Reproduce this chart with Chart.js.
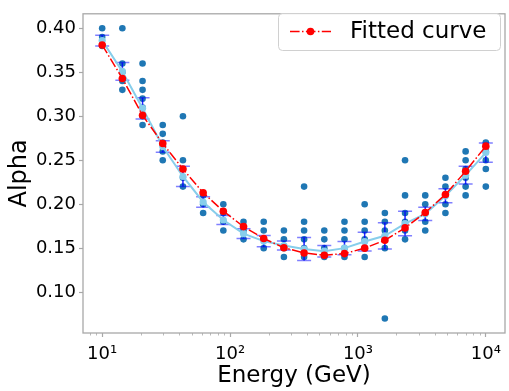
<!DOCTYPE html>
<html><head><meta charset="utf-8">
<script src="https://cdn.jsdelivr.net/npm/chart.js@4.4.0/dist/chart.umd.min.js"></script>
<style>html,body{margin:0;padding:0;background:#fff;}canvas{display:block;}</style>
</head><body>
<canvas id="c" width="509" height="391"></canvas>
<script>
// Energy bins (GeV)
const energies = [10, 14.38, 20.69, 29.76, 42.81, 61.58, 88.59, 127.4, 183.3, 263.7,
                  379.3, 545.6, 784.8, 1128.8, 1623.8, 2335.7, 3359.8, 4832.9, 6951.9, 10000];
// individual alpha values per energy bin
const alphaRuns = [
  [0.40, 0.39, 0.38],
  [0.40, 0.36, 0.35, 0.34, 0.33],
  [0.36, 0.34, 0.33, 0.32, 0.31, 0.30, 0.29],
  [0.29, 0.28, 0.27, 0.26, 0.25],
  [0.30, 0.25, 0.24, 0.23, 0.22],
  [0.21, 0.20, 0.19],
  [0.20, 0.19, 0.18, 0.17],
  [0.18, 0.17, 0.16],
  [0.18, 0.17, 0.16, 0.15],
  [0.17, 0.16, 0.15, 0.14],
  [0.22, 0.18, 0.17, 0.16, 0.15, 0.14],
  [0.17, 0.16, 0.15, 0.14],
  [0.18, 0.17, 0.16, 0.15, 0.14],
  [0.20, 0.18, 0.17, 0.16, 0.15, 0.14],
  [0.19, 0.18, 0.17, 0.16, 0.15, 0.07],
  [0.25, 0.21, 0.19, 0.18, 0.17, 0.16],
  [0.21, 0.20, 0.19, 0.18, 0.17],
  [0.23, 0.22, 0.21, 0.20, 0.19],
  [0.26, 0.25, 0.24, 0.23, 0.22, 0.21],
  [0.27, 0.26, 0.25, 0.24, 0.22]
];
// mean alpha per bin and its error
const meanAlpha = [0.386, 0.351, 0.309, 0.2655, 0.2315, 0.2025, 0.182, 0.1665, 0.158, 0.153,
                   0.149, 0.1465, 0.150, 0.1575, 0.164, 0.178, 0.189, 0.2095, 0.233, 0.2587];
const errAlpha  = [0.006, 0.010, 0.012, 0.0065, 0.0115, 0.006, 0.005, 0.0055, 0.0065, 0.005,
                   0.013, 0.0065, 0.0075, 0.0107, 0.015, 0.014, 0.0075, 0.008, 0.010, 0.011];
// fitted curve
const fitAlpha  = [0.381, 0.343, 0.301, 0.269, 0.240, 0.213, 0.192, 0.1745, 0.161, 0.1505,
                   0.1445, 0.142, 0.1438, 0.150, 0.159, 0.173, 0.1905, 0.211, 0.2375, 0.266];
const yTicks = [0.10, 0.15, 0.20, 0.25, 0.30, 0.35, 0.40];
const xTicks = [10, 100, 1000, 10000];
const xTickLabels = ['10\u00B9', '10\u00B2', '10\u00B3', '10\u2074'];
const minorTicks = [8, 9, 20, 30, 40, 50, 60, 70, 80, 90, 200, 300, 400, 500, 600, 700, 800, 900,
                    2000, 3000, 4000, 5000, 6000, 7000, 8000, 9000];

const FONT = "'DejaVu Sans', sans-serif";
const GRAY = '#a8a8a8';

const scatterData = [];
energies.forEach((e, i) => alphaRuns[i].forEach(v => scatterData.push({x: e, y: v})));

const errorBars = {
  id: 'errorBars',
  afterDatasetDraw(chart, args) {
    if (args.index !== 0) return;
    const {ctx, scales: {x, y}} = chart;
    ctx.save();
    energies.forEach((e, i) => {
      const px = x.getPixelForValue(e);
      const yt = y.getPixelForValue(meanAlpha[i] + errAlpha[i]);
      const yb = y.getPixelForValue(meanAlpha[i] - errAlpha[i]);
      ctx.strokeStyle = 'rgba(0,0,255,0.85)';
      ctx.lineWidth = 1.5;
      ctx.beginPath(); ctx.moveTo(px, yt); ctx.lineTo(px, yb); ctx.stroke();
      ctx.strokeStyle = 'rgba(0,0,255,0.5)';
      ctx.beginPath();
      ctx.moveTo(px - 7, yt); ctx.lineTo(px + 7, yt);
      ctx.moveTo(px - 7, yb); ctx.lineTo(px + 7, yb);
      ctx.stroke();
    });
    ctx.restore();
  }
};

const frame = {
  id: 'frame',
  afterDraw(chart) {
    const {ctx, chartArea: a, scales: {x}} = chart;
    ctx.save();
    ctx.strokeStyle = GRAY;
    ctx.lineWidth = 1.3;
    ctx.strokeRect(a.left, a.top, a.right - a.left, a.bottom - a.top);
    ctx.lineWidth = 0.8;
    ctx.beginPath();
    minorTicks.forEach(v => {
      const px = Math.round(x.getPixelForValue(v)) + 0.5;
      ctx.moveTo(px, a.bottom); ctx.lineTo(px, a.bottom + 2.5);
    });
    ctx.stroke();
    // legend
    const lx = 278, ly = 13, lw = 222, lh = 37;
    ctx.fillStyle = 'rgba(255,255,255,0.8)';
    ctx.strokeStyle = '#d0d0d0';
    ctx.lineWidth = 1;
    ctx.beginPath();
    ctx.roundRect(lx + 0.5, ly + 0.5, lw, lh, 4);
    ctx.fill(); ctx.stroke();
    const cy = ly + lh / 2;
    ctx.strokeStyle = 'red';
    ctx.lineWidth = 1.5;
    ctx.setLineDash([9.6, 2.4, 1.5, 2.4]);
    ctx.beginPath(); ctx.moveTo(290, cy); ctx.lineTo(331, cy); ctx.stroke();
    ctx.setLineDash([]);
    ctx.fillStyle = 'red';
    ctx.beginPath(); ctx.arc(310.5, cy, 3.8, 0, Math.PI * 2); ctx.fill();
    ctx.fillStyle = '#000';
    ctx.font = '23px ' + FONT;
    ctx.textBaseline = 'middle';
    ctx.textAlign = 'left';
    ctx.fillText('Fitted curve', 350, cy + 1);
    ctx.restore();
  }
};

new Chart(document.getElementById('c'), {
  data: {
    datasets: [
      {
        type: 'scatter', label: 'runs', data: scatterData, order: 3,
        pointRadius: 3.3, pointBackgroundColor: '#1f77b4', pointBorderWidth: 0, showLine: false
      },
      {
        type: 'line', label: 'mean', order: 2,
        data: energies.map((e, i) => ({x: e, y: meanAlpha[i]})),
        borderColor: '#87ceeb', borderWidth: 2, pointRadius: 3.6,
        pointBackgroundColor: '#87ceeb', pointBorderWidth: 0, tension: 0
      },
      {
        type: 'line', label: 'Fitted curve', order: 1,
        data: energies.map((e, i) => ({x: e, y: fitAlpha[i]})),
        borderColor: 'red', borderWidth: 1.5, borderDash: [9.6, 2.4, 1.5, 2.4],
        pointRadius: 3.8, pointBackgroundColor: 'red', pointBorderWidth: 0, tension: 0
      }
    ]
  },
  options: {
    responsive: false, animation: false, devicePixelRatio: 1,
    layout: {padding: {top: 3, right: 1, left: 0, bottom: 0}},
    plugins: {legend: {display: false}, tooltip: {enabled: false}},
    scales: {
      x: {
        type: 'logarithmic', position: 'bottom',
        min: Math.pow(10, 0.85), max: Math.pow(10, 4.15),
        afterBuildTicks(s) { s.ticks = xTicks.map(v => ({value: v, major: true})); },
        afterFit(s) { s.height = 58; },
        ticks: {
          autoSkip: false, maxRotation: 0, padding: 7, color: '#000',
          font: {family: FONT, size: 18},
          callback(v) { const k = xTicks.indexOf(v); return k >= 0 ? xTickLabels[k] : ''; }
        },
        grid: {display: true, drawOnChartArea: false, drawTicks: true, tickLength: 4, tickColor: GRAY, tickWidth: 1.2},
        border: {display: false},
        title: {display: true, text: 'Energy (GeV)', color: '#000', font: {family: FONT, size: 23}, padding: {top: 0, bottom: 1}}
      },
      y: {
        type: 'linear', position: 'left',
        min: 0.0535, max: 0.4165,
        afterBuildTicks(s) { s.ticks = yTicks.map(v => ({value: v})); },
        afterFit(s) { s.width = 83; },
        ticks: {
          padding: 3, color: '#000', font: {family: FONT, size: 18},
          callback(v) { return Number(v).toFixed(2); }
        },
        grid: {display: true, drawOnChartArea: false, drawTicks: true, tickLength: 4, tickColor: GRAY, tickWidth: 1.2},
        border: {display: false},
        title: {display: true, text: 'Alpha', color: '#000', font: {family: FONT, size: 24}, padding: {top: 5, bottom: 0}}
      }
    }
  },
  plugins: [errorBars, frame]
});
</script>
</body></html>
